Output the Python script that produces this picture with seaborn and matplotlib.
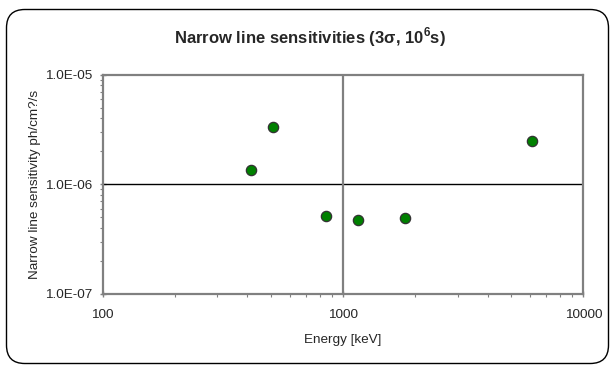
import matplotlib
matplotlib.use("Agg")
import matplotlib.pyplot as plt
import seaborn as sns
import pandas as pd
import numpy as np
from matplotlib.patches import FancyBboxPatch
from matplotlib.ticker import LogLocator, FixedLocator, NullFormatter

energy_kev = [413, 511, 847, 1157, 1809, 6129]
sensitivity = [1.34e-6, 3.36e-6, 5.14e-7, 4.69e-7, 4.93e-7, 2.48e-6]
x_ticks = [100, 1000, 10000]
x_tick_labels = ["100", "1000", "10000"]
y_ticks = [1e-7, 1e-6, 1e-5]
y_tick_labels = ["1.0E-07", "1.0E-06", "1.0E-05"]

df = pd.DataFrame({"energy": energy_kev, "sens": sensitivity})

sns.set_style("white")
plt.rcParams["font.family"] = ["Liberation Sans", "DejaVu Sans"]
plt.rcParams["mathtext.fontset"] = "custom"
plt.rcParams["mathtext.rm"] = "Liberation Sans"
plt.rcParams["mathtext.bf"] = "Liberation Sans:bold"

fig = plt.figure(figsize=(6.11, 3.65), dpi=100)
W, H = 611, 365
border = FancyBboxPatch((6.5 / W, 1.5 / H), (608.5 - 6.5) / W, (355.5 - 1.5) / H,
                        boxstyle="round,pad=0,rounding_size=0.03",
                        transform=fig.transFigure, fill=False,
                        edgecolor="black", linewidth=1.0, mutation_aspect=W / H)
fig.patches.append(border)

left, right, top, bottom = 102.7, 583.3, 74.7, 294.0
ax = fig.add_axes([left / W, 1 - bottom / H, (right - left) / W, (bottom - top) / H])
ax.set_xscale("log")
ax.set_yscale("log")
ax.set_xlim(100, 10000)
ax.set_ylim(1e-7, 1e-5)

ax.axhline(1e-6, color="black", linewidth=1.0, zorder=1)
ax.axvline(1000, color="#808080", linewidth=1.6, zorder=1)

sns.scatterplot(data=df, x="energy", y="sens", ax=ax, color="#008000",
                edgecolor="#333333", linewidth=0.9, s=55, zorder=3, legend=False)

ax.xaxis.set_major_locator(FixedLocator(x_ticks))
ax.set_xticklabels(x_tick_labels)
ax.yaxis.set_major_locator(FixedLocator(y_ticks))
ax.set_yticklabels(y_tick_labels)
ax.xaxis.set_minor_locator(LogLocator(base=10, subs=np.arange(2, 10)))
ax.yaxis.set_minor_locator(LogLocator(base=10, subs=np.arange(2, 10)))
ax.xaxis.set_minor_formatter(NullFormatter())
ax.yaxis.set_minor_formatter(NullFormatter())

ax.tick_params(axis="both", which="major", direction="inout", length=5, width=1.0,
               color="#808080", labelsize=9.7, bottom=True, left=True)
ax.tick_params(axis="y", which="major", pad=5)
ax.tick_params(axis="x", which="major", pad=8)
ax.tick_params(axis="both", which="minor", direction="out", length=2.5, width=0.8,
               color="#808080", bottom=True, left=True)

for side in ["top", "right", "left", "bottom"]:
    ax.spines[side].set_color("#808080")
    ax.spines[side].set_linewidth(1.6)

ax.set_xlabel("Energy [keV]", fontsize=9.7, labelpad=10)
ax.set_ylabel("Narrow line sensitivity ph/cm?/s", fontsize=9.7, labelpad=3)

fig.text(310 / W, 1 - 37 / H, "Narrow line sensitivities (3σ, 10$^{\\mathbf{6}}$s)",
         ha="center", va="center", fontsize=12, fontweight="bold")

fig.savefig("out.png", dpi=100)
